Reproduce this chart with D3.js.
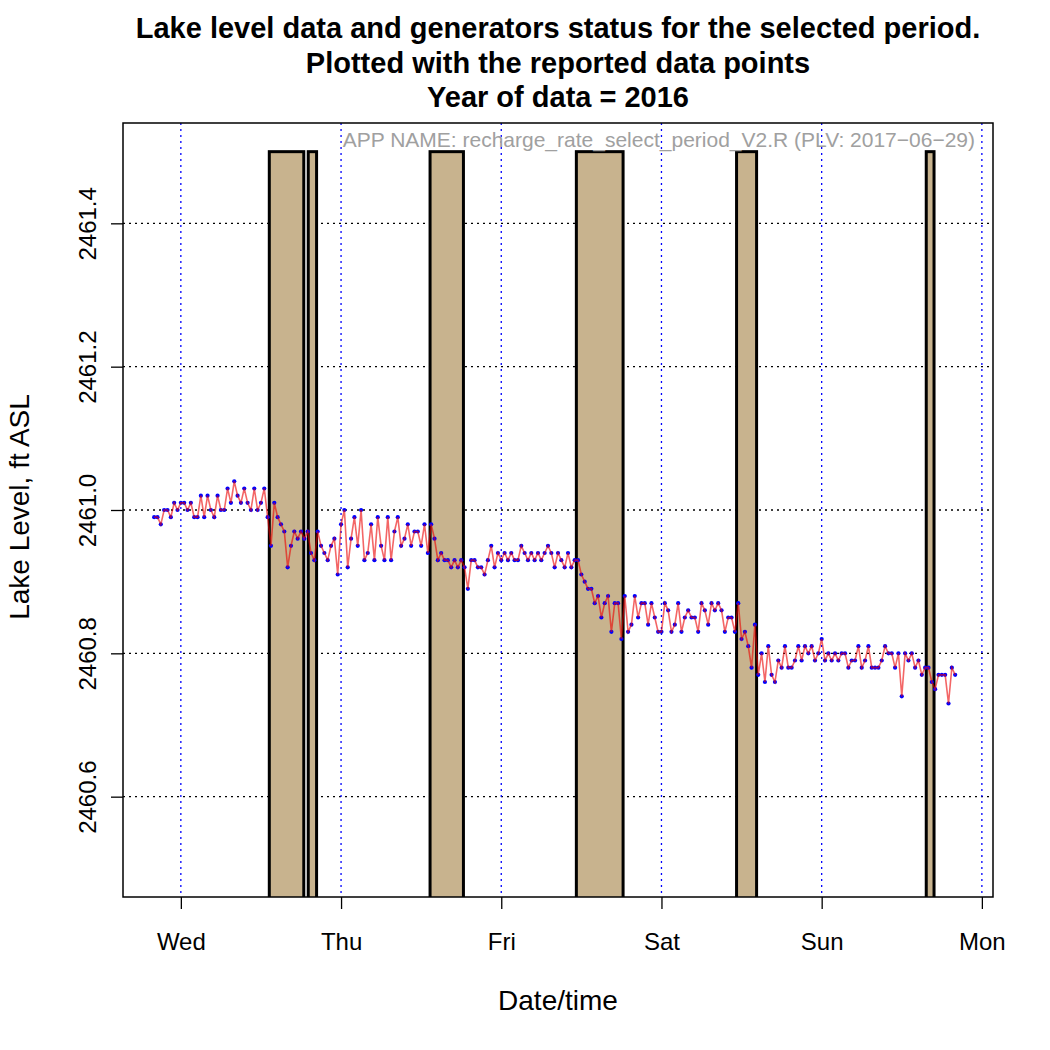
<!DOCTYPE html>
<html>
<head>
<meta charset="utf-8">
<script src="https://cdn.jsdelivr.net/npm/d3@7"></script>
<style>
  body { margin: 0; background: #fff; }
  svg { display: block; }
  text { font-family: "Liberation Sans", Arial, Helvetica, sans-serif; }
</style>
</head>
<body>
<svg id="chart" width="1050" height="1050"></svg>
<script>
"use strict";

var titleLines = [
	"Lake level data and generators status for the selected period.",
	"Plotted with the reported data points",
	"Year of data = 2016"
];
var appNote = "APP NAME: recharge_rate_select_period_V2.R (PLV: 2017\u221206\u221229)";
var xTitle = "Date/time";
var yTitle = "Lake Level, ft ASL";

// day ticks (midnight) and their labels
var dayTicks = ["2016-06-01", "2016-06-02", "2016-06-03", "2016-06-04", "2016-06-05", "2016-06-06"];
var dayLabels = ["Wed", "Thu", "Fri", "Sat", "Sun", "Mon"];
var levelTicks = [2460.6, 2460.8, 2461.0, 2461.2, 2461.4];

// lake level readings, every 30 min from Tue 20:00, in hundredths of a ft above 2460.00
var levelStart = "2016-05-31T20:00:00Z";
var levelStepMin = 30;
var levelHundredths = [
	99, 99, 98, 100, 100, 99, 101, 100, 101, 101,
	100, 101, 99, 99, 102, 99, 102, 100, 99, 102,
	100, 100, 103, 101, 104, 102, 101, 103, 101, 100,
	103, 100, 101, 103, 99, 95, 101, 99, 98, 97,
	92, 95, 97, 96, 97, 96, 97, 94, 93, 97,
	95, 94, 93, 95, 96, 91, 98, 100, 92, 96,
	99, 95, 100, 93, 94, 98, 93, 99, 95, 93,
	99, 93, 97, 99, 95, 96, 98, 95, 97, 97,
	95, 98, 94, 98, 96, 93, 94, 93, 93, 92,
	93, 92, 93, 92, 89, 93, 93, 92, 92, 91,
	93, 95, 92, 94, 93, 94, 93, 94, 93, 93,
	95, 94, 93, 94, 93, 94, 93, 94, 95, 94,
	92, 94, 93, 92, 94, 92, 93, 93, 91, 90,
	89, 89, 87, 88, 85, 87, 88, 83, 87, 87,
	82, 88, 83, 84, 88, 85, 87, 87, 84, 87,
	85, 83, 83, 87, 86, 83, 84, 87, 83, 85,
	86, 85, 85, 83, 87, 86, 84, 87, 86, 87,
	86, 83, 85, 85, 83, 87, 82, 83, 81, 78,
	84, 77, 80, 76, 81, 77, 76, 79, 78, 81,
	78, 78, 79, 81, 79, 81, 80, 81, 79, 80,
	82, 79, 80, 79, 80, 79, 80, 80, 78, 79,
	79, 81, 78, 79, 81, 78, 78, 78, 79, 81,
	80, 80, 78, 80, 74, 80, 79, 80, 78, 79,
	77, 78, 78, 76, 75, 77, 77, 77, 73, 78, 77
];

// generator running periods
var genStart = ["2016-06-01T13:15Z", "2016-06-01T19:05Z", "2016-06-02T13:20Z", "2016-06-03T11:15Z", "2016-06-04T11:15Z", "2016-06-05T15:40Z"];
var genEnd   = ["2016-06-01T18:25Z", "2016-06-01T20:20Z", "2016-06-02T18:20Z", "2016-06-03T18:15Z", "2016-06-04T14:15Z", "2016-06-05T16:50Z"];
var genTop = 2461.5;

var svg = d3.select("#chart");
var margin = { top: 123, right: 57, bottom: 153, left: 123 },
	width = +svg.attr("width") - margin.left - margin.right,
	height = +svg.attr("height") - margin.top - margin.bottom;

var x = d3.scaleUtc()
	.domain([new Date("2016-05-31T15:20:00Z"), new Date("2016-06-06T01:40:00Z")])
	.range([0, width]);
var y = d3.scaleLinear().domain([2460.46, 2461.54]).range([height, 0]);

var t0 = new Date(levelStart).getTime();
var levels = levelHundredths.map(function(v, i) {
	return { t: new Date(t0 + i * levelStepMin * 60000), v: 2460 + v / 100 };
});

var g = svg.append("g").attr("transform", "translate(" + margin.left + "," + margin.top + ")");
g.append("clipPath").attr("id", "plotclip")
	.append("rect").attr("width", width).attr("height", height);

// grid
g.append("g").selectAll("line").data(levelTicks).join("line")
	.attr("x1", 0).attr("x2", width)
	.attr("y1", function(d) { return y(d); }).attr("y2", function(d) { return y(d); })
	.attr("stroke", "#000").attr("stroke-width", 1.3).attr("stroke-dasharray", "2,4");
g.append("g").selectAll("line").data(dayTicks).join("line")
	.attr("x1", function(d) { return x(new Date(d)); }).attr("x2", function(d) { return x(new Date(d)); })
	.attr("y1", 0).attr("y2", height)
	.attr("stroke", "#0000ff").attr("stroke-width", 1.3).attr("stroke-dasharray", "2,4");

// generator bars
g.append("g").attr("clip-path", "url(#plotclip)")
	.selectAll("rect").data(genStart).join("rect")
	.attr("x", function(d) { return x(new Date(d)); })
	.attr("width", function(d, i) { return x(new Date(genEnd[i])) - x(new Date(d)); })
	.attr("y", y(genTop))
	.attr("height", height - y(genTop) + 10)
	.attr("fill", "#c8b38e")
	.attr("stroke", "#000")
	.attr("stroke-width", 3);

// lake level
var plot = g.append("g").attr("clip-path", "url(#plotclip)");
plot.selectAll("circle").data(levels).join("circle")
	.attr("cx", function(d) { return x(d.t); })
	.attr("cy", function(d) { return y(d.v); })
	.attr("r", 2.1)
	.attr("fill", "#0000ff");
plot.append("path")
	.datum(levels)
	.attr("fill", "none")
	.attr("stroke", "rgba(235,0,0,0.6)")
	.attr("stroke-width", 1.6)
	.attr("d", d3.line().x(function(d) { return x(d.t); }).y(function(d) { return y(d.v); }));

// note
g.append("text")
	.attr("x", width - 18).attr("y", 24)
	.attr("text-anchor", "end")
	.attr("font-size", 21)
	.attr("fill", "#a0a0a0")
	.text(appNote);

// axes
var yAxis = g.append("g")
	.call(d3.axisLeft(y).tickValues(levelTicks).tickFormat(d3.format(".1f")).tickSize(12).tickSizeOuter(0));
yAxis.select(".domain").remove();
yAxis.selectAll("line").attr("stroke", "#000").attr("stroke-width", 1.3);
yAxis.selectAll("text")
	.attr("x", null).attr("dy", null)
	.attr("transform", "translate(-27,0) rotate(-90)")
	.attr("text-anchor", "middle")
	.attr("font-family", "Liberation Sans, Arial, sans-serif")
	.attr("font-size", 24)
	.attr("fill", "#000");

var xAxis = g.append("g")
	.attr("transform", "translate(0," + height + ")")
	.call(d3.axisBottom(x)
		.tickValues(dayTicks.map(function(d) { return new Date(d); }))
		.tickFormat(function(d, i) { return dayLabels[i]; })
		.tickSize(12).tickSizeOuter(0));
xAxis.select(".domain").remove();
xAxis.selectAll("line").attr("stroke", "#000").attr("stroke-width", 1.3);
xAxis.selectAll("text")
	.attr("y", 53).attr("dy", null)
	.attr("font-family", "Liberation Sans, Arial, sans-serif")
	.attr("font-size", 24)
	.attr("fill", "#000");

// box
g.append("rect")
	.attr("width", width).attr("height", height)
	.attr("fill", "none").attr("stroke", "#000").attr("stroke-width", 1.5);

// titles
svg.append("g").selectAll("text").data(titleLines).join("text")
	.attr("x", margin.left + width / 2)
	.attr("y", function(d, i) { return 38 + i * 34.5; })
	.attr("text-anchor", "middle")
	.attr("font-weight", "bold")
	.attr("font-size", 29)
	.text(function(d) { return d; });

svg.append("text")
	.attr("x", margin.left + width / 2).attr("y", 1010)
	.attr("text-anchor", "middle")
	.attr("font-size", 28)
	.text(xTitle);

svg.append("text")
	.attr("transform", "translate(29," + (margin.top + height / 2 - 3) + ") rotate(-90)")
	.attr("text-anchor", "middle")
	.attr("font-size", 28)
	.text(yTitle);
</script>
</body>
</html>
